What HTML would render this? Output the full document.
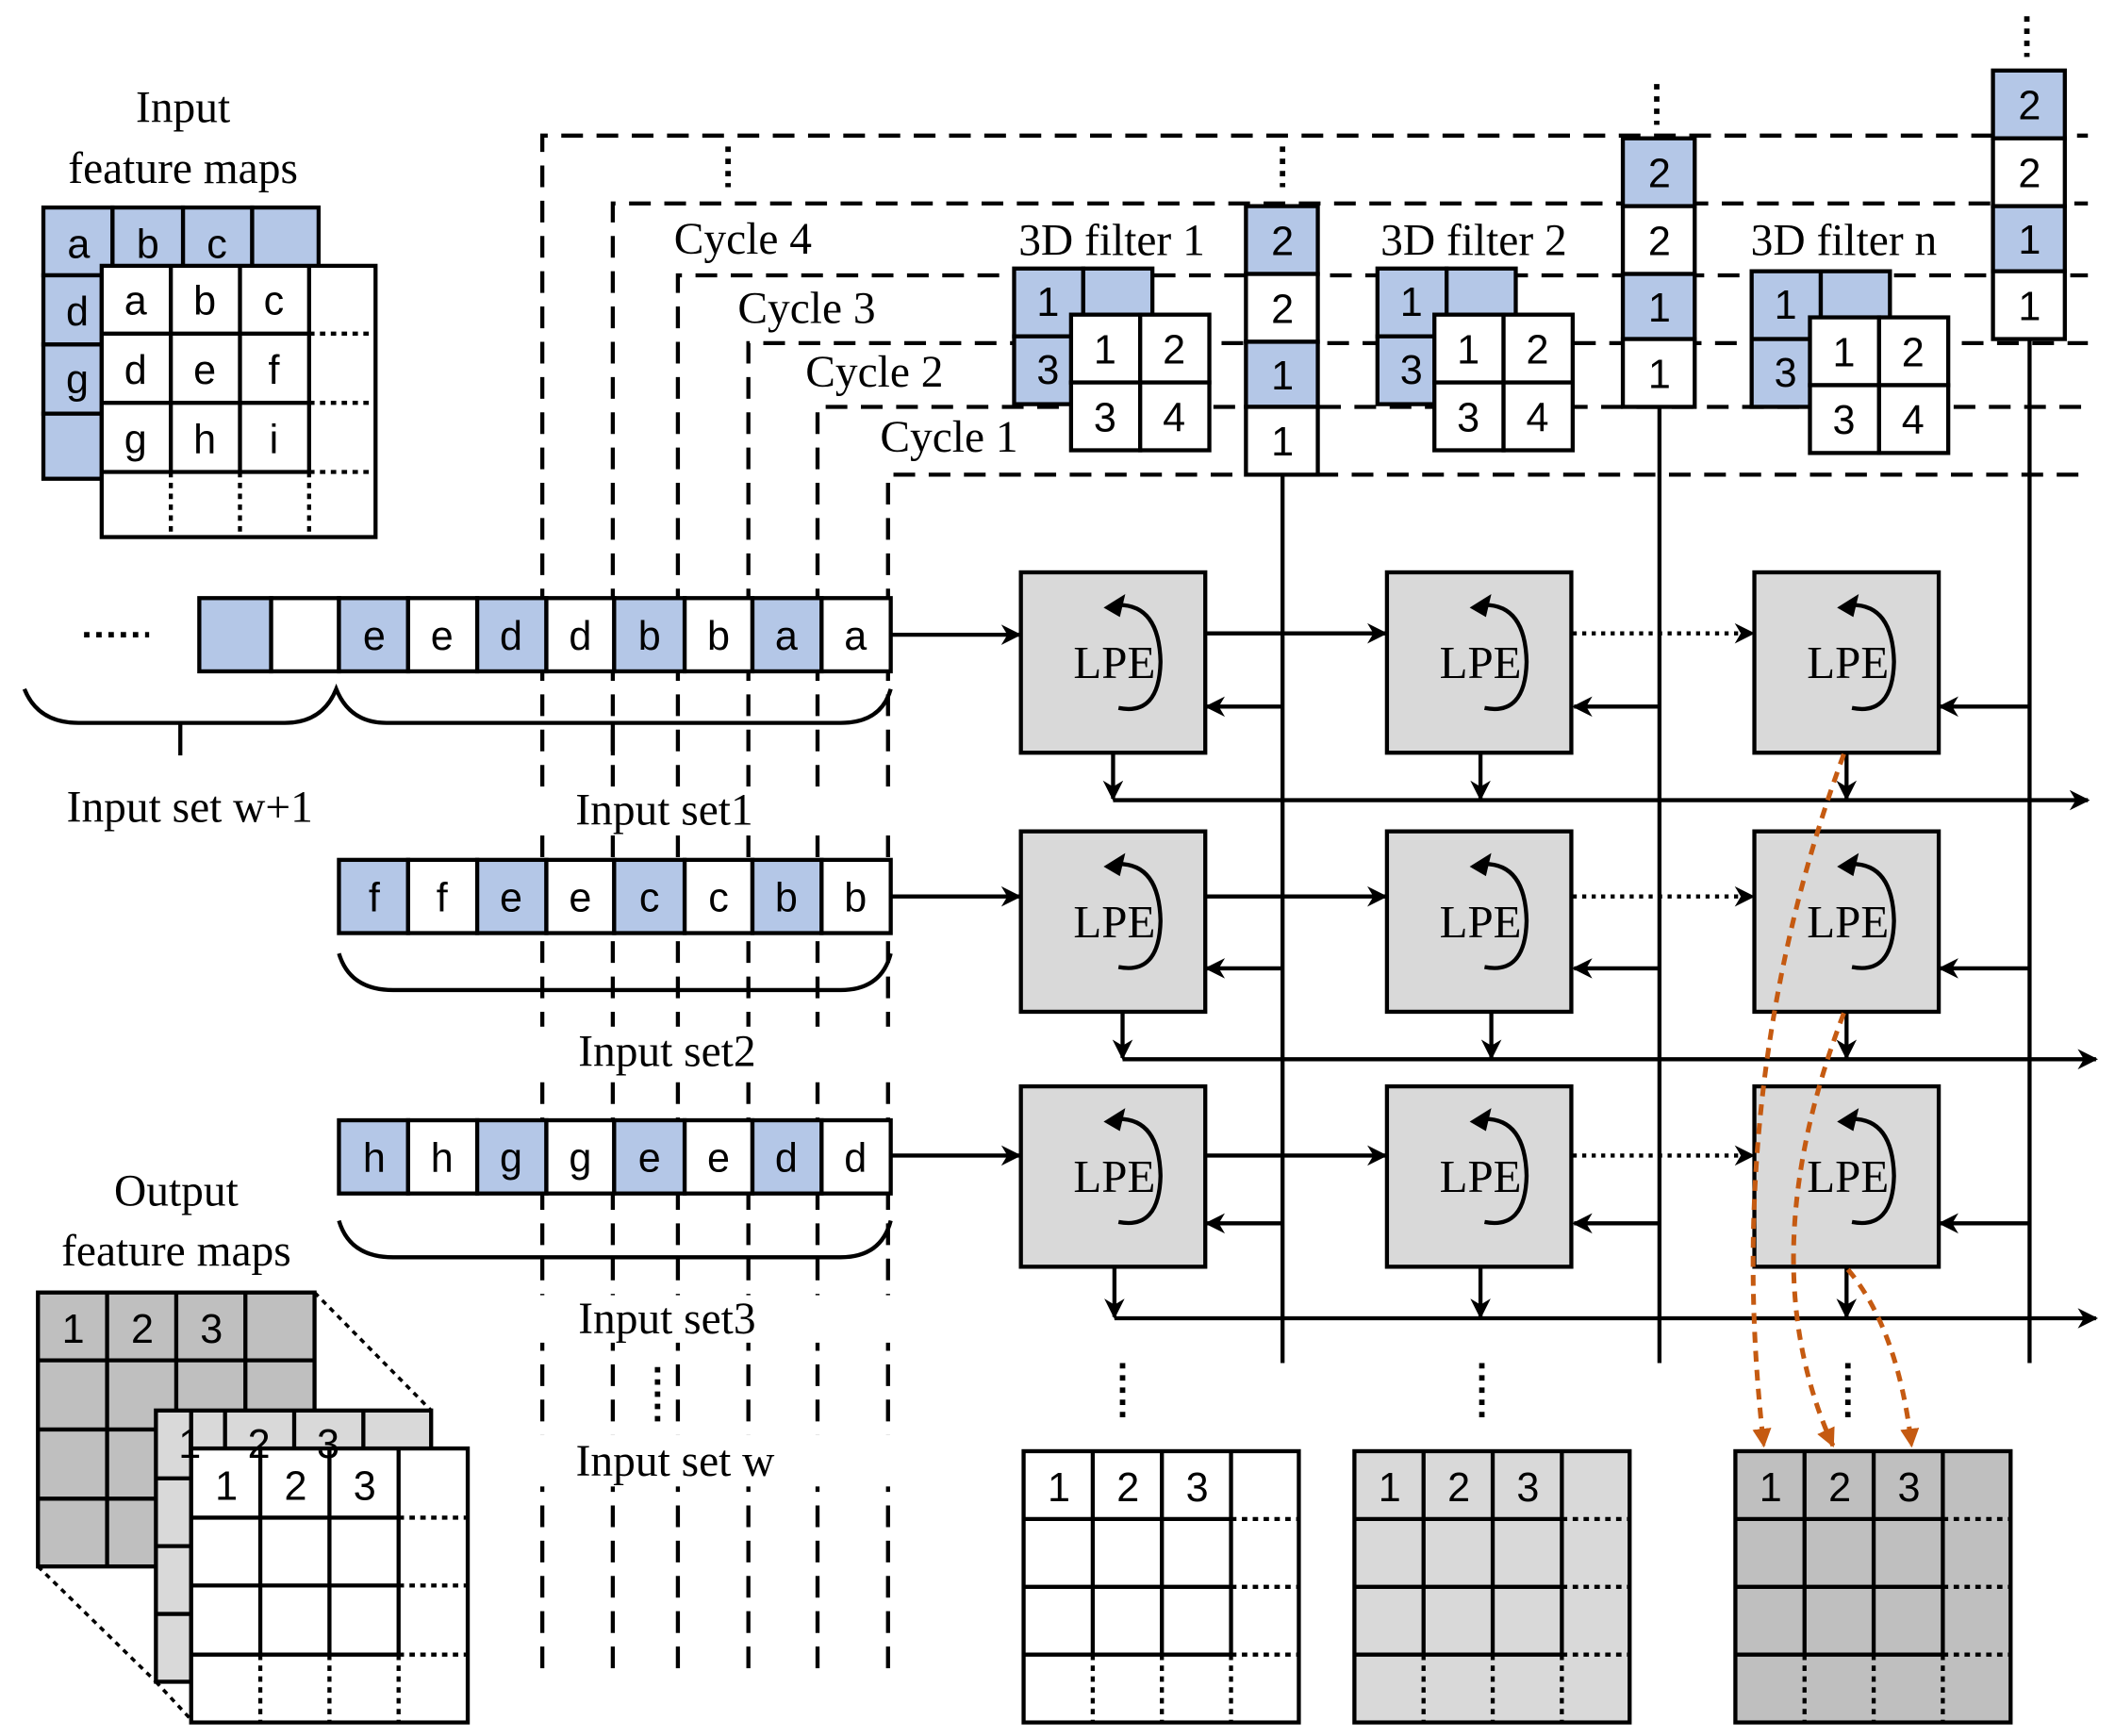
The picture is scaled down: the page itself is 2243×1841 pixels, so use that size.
<!DOCTYPE html>
<html><head><meta charset="utf-8"><style>
html,body{margin:0;padding:0;background:#fff}
svg{display:block}
.s{font-family:"Liberation Sans",sans-serif;font-size:30px;text-anchor:middle}
.r{font-family:"Liberation Serif",serif;font-size:33px;text-anchor:middle}
</style></head><body>
<svg width="2243" height="1841" viewBox="0 0 1560 1280" preserveAspectRatio="none" xmlns="http://www.w3.org/2000/svg">
<defs>
<marker id="ah" viewBox="0 0 10 10" refX="9" refY="5" markerWidth="5" markerHeight="5" orient="auto"><path d="M0,0 L10,5 L0,10 L3,5 z" fill="#000"/></marker>
<marker id="ao" viewBox="0 0 10 10" refX="9" refY="5" markerWidth="4" markerHeight="4" orient="auto"><path d="M0,0 L10,5 L0,10 z" fill="#c55a11"/></marker>
</defs>
<g fill="none" stroke="#000" stroke-width="3" stroke-dasharray="16,10">
<path d="M400,1230 V100 H1540"/>
<path d="M452,1230 V150 H1540"/>
<path d="M500,1230 V203 H1540"/>
<path d="M552,1230 V253 H1540"/>
<path d="M603,1230 V300 H1540"/>
<path d="M655,1230 V350 H1540"/>
</g>
<!-- white label backgrounds -->
<g fill="#fff">
<rect x="395" y="580" width="270" height="35"/><rect x="395" y="757" width="270" height="35"/><rect x="395" y="955" width="270" height="35"/><rect x="395" y="1058" width="270" height="38"/>
<rect x="485" y="158" width="125" height="36"/><rect x="533" y="210" width="125" height="36"/><rect x="583" y="258" width="125" height="36"/><rect x="638" y="305" width="125" height="36"/>
<rect x="740" y="158" width="160" height="36"/><rect x="1005" y="158" width="165" height="36"/><rect x="1278" y="158" width="165" height="36"/>
</g>
<g class="r">
<text x="548" y="187">Cycle 4</text><text x="595" y="238">Cycle 3</text><text x="645" y="285">Cycle 2</text><text x="700" y="333">Cycle 1</text>
<text x="820" y="188">3D filter 1</text><text x="1087" y="188">3D filter 2</text><text x="1360" y="188">3D filter n</text>
<text x="135" y="90">Input</text><text x="135" y="135">feature maps</text>
<text x="140" y="606">Input set w+1</text><text x="490" y="608">Input set1</text><text x="492" y="786">Input set2</text><text x="492" y="983">Input set3</text><text x="498" y="1088">Input set w</text>
<text x="130" y="889">Output</text><text x="130" y="933">feature maps</text>
</g>
<g fill="none" stroke="#000" stroke-width="4" stroke-dasharray="4,5">
<path d="M537,108 V138"/><path d="M946,108 V138"/><path d="M1222,62 V92"/><path d="M1495,12 V42"/><path d="M485,1008 V1050"/>
<path d="M828,1005 V1050"/><path d="M1093,1005 V1050"/><path d="M1363,1005 V1050"/>
<path d="M62,468 H110"/>
</g>
<!-- input feature maps -->
<g stroke="#000" stroke-width="3" fill="#b4c7e7">
<rect x="32" y="153" width="51" height="50"/><rect x="83" y="153" width="52" height="50"/><rect x="135" y="153" width="51" height="50"/><rect x="186" y="153" width="49" height="50"/>
<rect x="32" y="203" width="43" height="51"/><rect x="32" y="254" width="43" height="51"/><rect x="32" y="305" width="43" height="48"/>
<rect x="75" y="196" width="202" height="200" fill="#fff"/>
</g>
<g stroke="#000" stroke-width="3"><path d="M126,196V348M177,196V348M228,196V348M75,246H228M75,297H228M75,348H228"/></g>
<g stroke="#000" stroke-width="3" stroke-dasharray="4,4"><path d="M228,246H277M228,297H277M228,348H277M126,348V396M177,348V396M228,348V396"/></g>
<g class="s"><text x="58" y="190">a</text><text x="109" y="190">b</text><text x="160" y="190">c</text><text x="57" y="240">d</text><text x="57" y="290">g</text>
<text x="100" y="232">a</text><text x="151" y="232">b</text><text x="202" y="232">c</text><text x="100" y="283">d</text><text x="151" y="283">e</text><text x="202" y="283">f</text><text x="100" y="334">g</text><text x="151" y="334">h</text><text x="202" y="334">i</text></g>
<!-- input rows -->
<g stroke="#000" stroke-width="3">
<rect x="147" y="441" width="53" height="54" fill="#b4c7e7"/><rect x="200" y="441" width="50" height="54" fill="#fff"/>
<rect x="250" y="441" width="51" height="54" fill="#b4c7e7"/><rect x="301" y="441" width="51" height="54" fill="#fff"/>
<rect x="352" y="441" width="51" height="54" fill="#b4c7e7"/><rect x="403" y="441" width="50" height="54" fill="#fff"/>
<rect x="453" y="441" width="52" height="54" fill="#b4c7e7"/><rect x="505" y="441" width="50" height="54" fill="#fff"/>
<rect x="555" y="441" width="51" height="54" fill="#b4c7e7"/><rect x="606" y="441" width="51" height="54" fill="#fff"/>
<g transform="translate(0,193)"><rect x="250" y="441" width="51" height="54" fill="#b4c7e7"/><rect x="301" y="441" width="51" height="54" fill="#fff"/>
<rect x="352" y="441" width="51" height="54" fill="#b4c7e7"/><rect x="403" y="441" width="50" height="54" fill="#fff"/>
<rect x="453" y="441" width="52" height="54" fill="#b4c7e7"/><rect x="505" y="441" width="50" height="54" fill="#fff"/>
<rect x="555" y="441" width="51" height="54" fill="#b4c7e7"/><rect x="606" y="441" width="51" height="54" fill="#fff"/></g>
<g transform="translate(0,385)"><rect x="250" y="441" width="51" height="54" fill="#b4c7e7"/><rect x="301" y="441" width="51" height="54" fill="#fff"/>
<rect x="352" y="441" width="51" height="54" fill="#b4c7e7"/><rect x="403" y="441" width="50" height="54" fill="#fff"/>
<rect x="453" y="441" width="52" height="54" fill="#b4c7e7"/><rect x="505" y="441" width="50" height="54" fill="#fff"/>
<rect x="555" y="441" width="51" height="54" fill="#b4c7e7"/><rect x="606" y="441" width="51" height="54" fill="#fff"/></g>
</g>
<g class="s"><text x="276" y="479">e</text><text x="326" y="479">e</text><text x="377" y="479">d</text><text x="428" y="479">d</text><text x="479" y="479">b</text><text x="530" y="479">b</text><text x="580" y="479">a</text><text x="631" y="479">a</text>
<text x="276" y="672">f</text><text x="326" y="672">f</text><text x="377" y="672">e</text><text x="428" y="672">e</text><text x="479" y="672">c</text><text x="530" y="672">c</text><text x="580" y="672">b</text><text x="631" y="672">b</text>
<text x="276" y="864">h</text><text x="326" y="864">h</text><text x="377" y="864">g</text><text x="428" y="864">g</text><text x="479" y="864">e</text><text x="530" y="864">e</text><text x="580" y="864">d</text><text x="631" y="864">d</text></g>
<!-- braces -->
<g fill="none" stroke="#000" stroke-width="3">
<path d="M18,508 Q28,533 58,533 H210 Q238,533 248,508 Q258,533 285,533 H620 Q650,533 657,508 M133,533V557 M452,533V557"/>
<path d="M250,703 Q258,730 290,730 H620 Q650,730 657,703"/>
<path d="M250,900 Q258,927 290,927 H620 Q650,927 657,900"/>
</g>
<!-- 3D filters -->
<g stroke="#000" stroke-width="3">
<g fill="#b4c7e7"><rect x="748" y="198" width="51" height="50"/><rect x="799" y="198" width="51" height="50"/><rect x="748" y="248" width="51" height="50"/><rect x="799" y="248" width="51" height="50"/>
<rect x="1016" y="198" width="51" height="50"/><rect x="1067" y="198" width="51" height="50"/><rect x="1016" y="248" width="51" height="50"/><rect x="1067" y="248" width="51" height="50"/>
<rect x="1292" y="200" width="51" height="50"/><rect x="1343" y="200" width="51" height="50"/><rect x="1292" y="250" width="51" height="50"/><rect x="1343" y="250" width="51" height="50"/></g>
<g fill="#fff"><rect x="790" y="232" width="51" height="50"/><rect x="841" y="232" width="51" height="50"/><rect x="790" y="282" width="51" height="50"/><rect x="841" y="282" width="51" height="50"/>
<rect x="1058" y="232" width="51" height="50"/><rect x="1109" y="232" width="51" height="50"/><rect x="1058" y="282" width="51" height="50"/><rect x="1109" y="282" width="51" height="50"/>
<rect x="1335" y="234" width="51" height="50"/><rect x="1386" y="234" width="51" height="50"/><rect x="1335" y="284" width="51" height="50"/><rect x="1386" y="284" width="51" height="50"/></g>
</g>
<g class="s"><text x="773" y="233">1</text><text x="773" y="283">3</text><text x="815" y="268">1</text><text x="866" y="268">2</text><text x="815" y="318">3</text><text x="866" y="318">4</text>
<text x="1041" y="233">1</text><text x="1041" y="283">3</text><text x="1083" y="268">1</text><text x="1134" y="268">2</text><text x="1083" y="318">3</text><text x="1134" y="318">4</text>
<text x="1317" y="235">1</text><text x="1317" y="285">3</text><text x="1360" y="270">1</text><text x="1411" y="270">2</text><text x="1360" y="320">3</text><text x="1411" y="320">4</text></g>
<!-- vertical lines and stacks -->
<g stroke="#000" stroke-width="3"><path d="M946,350V1005M1224,300V1005M1497,250V1005"/>
<rect x="919" y="152" width="53" height="50" fill="#b4c7e7"/><rect x="919" y="202" width="53" height="50" fill="#fff"/><rect x="919" y="252" width="53" height="48" fill="#b4c7e7"/><rect x="919" y="300" width="53" height="50" fill="#fff"/>
<rect x="1197" y="102" width="53" height="50" fill="#b4c7e7"/><rect x="1197" y="152" width="53" height="50" fill="#fff"/><rect x="1197" y="202" width="53" height="48" fill="#b4c7e7"/><rect x="1197" y="250" width="53" height="50" fill="#fff"/>
<rect x="1470" y="52" width="53" height="50" fill="#b4c7e7"/><rect x="1470" y="102" width="53" height="50" fill="#fff"/><rect x="1470" y="152" width="53" height="48" fill="#b4c7e7"/><rect x="1470" y="200" width="53" height="50" fill="#fff"/>
</g>
<g class="s"><text x="946" y="188">2</text><text x="946" y="238">2</text><text x="946" y="287">1</text><text x="946" y="336">1</text>
<text x="1224" y="138">2</text><text x="1224" y="188">2</text><text x="1224" y="237">1</text><text x="1224" y="286">1</text>
<text x="1497" y="88">2</text><text x="1497" y="138">2</text><text x="1497" y="187">1</text><text x="1497" y="236">1</text></g>
<!-- connectors -->
<g fill="none" stroke="#000" stroke-width="3" marker-end="url(#ah)">
<path d="M657,468H752"/><path d="M657,661H752"/><path d="M657,852H752"/>
<path d="M889,467H1022"/><path d="M889,661H1022"/><path d="M889,852H1022"/>
<path d="M946,521H890"/><path d="M1224,521H1161"/><path d="M1497,521H1431"/>
<path d="M946,714H890"/><path d="M1224,714H1161"/><path d="M1497,714H1431"/>
<path d="M946,902H890"/><path d="M1224,902H1161"/><path d="M1497,902H1431"/>
<path d="M821,555V589"/><path d="M1092,555V589"/><path d="M1362,555V589"/>
<path d="M828,746V780"/><path d="M1100,746V780"/><path d="M1362,746V780"/>
<path d="M822,935V971"/><path d="M1092,935V971"/><path d="M1362,935V971"/>
<path d="M821,590H1540"/><path d="M828,781H1546"/><path d="M822,972H1546"/>
</g>
<g fill="none" stroke="#000" stroke-width="3" stroke-dasharray="3,4" marker-end="url(#ah)">
<path d="M1160,467H1293"/><path d="M1160,661H1293"/><path d="M1160,852H1293"/>
</g>
<!-- LPE boxes -->
<g id="lpe">
<rect x="753" y="422" width="136" height="133" fill="#d9d9d9" stroke="#000" stroke-width="3"/>
<path d="M825,446 Q855,446 856,488 Q855,528 825,522" fill="none" stroke="#000" stroke-width="3"/>
<path d="M814,448 L830,438 L826,455 z" fill="#000"/>
<text class="r" x="822" y="500" style="font-size:34px">LPE</text>
</g>
<g transform="translate(270,0)"><rect x="753" y="422" width="136" height="133" fill="#d9d9d9" stroke="#000" stroke-width="3"/><path d="M825,446 Q855,446 856,488 Q855,528 825,522" fill="none" stroke="#000" stroke-width="3"/><path d="M814,448 L830,438 L826,455 z"/><text class="r" x="822" y="500" style="font-size:34px">LPE</text></g>
<g transform="translate(541,0)"><rect x="753" y="422" width="136" height="133" fill="#d9d9d9" stroke="#000" stroke-width="3"/><path d="M825,446 Q855,446 856,488 Q855,528 825,522" fill="none" stroke="#000" stroke-width="3"/><path d="M814,448 L830,438 L826,455 z"/><text class="r" x="822" y="500" style="font-size:34px">LPE</text></g>
<g transform="translate(0,191)"><rect x="753" y="422" width="136" height="133" fill="#d9d9d9" stroke="#000" stroke-width="3"/><path d="M825,446 Q855,446 856,488 Q855,528 825,522" fill="none" stroke="#000" stroke-width="3"/><path d="M814,448 L830,438 L826,455 z"/><text class="r" x="822" y="500" style="font-size:34px">LPE</text></g>
<g transform="translate(270,191)"><rect x="753" y="422" width="136" height="133" fill="#d9d9d9" stroke="#000" stroke-width="3"/><path d="M825,446 Q855,446 856,488 Q855,528 825,522" fill="none" stroke="#000" stroke-width="3"/><path d="M814,448 L830,438 L826,455 z"/><text class="r" x="822" y="500" style="font-size:34px">LPE</text></g>
<g transform="translate(541,191)"><rect x="753" y="422" width="136" height="133" fill="#d9d9d9" stroke="#000" stroke-width="3"/><path d="M825,446 Q855,446 856,488 Q855,528 825,522" fill="none" stroke="#000" stroke-width="3"/><path d="M814,448 L830,438 L826,455 z"/><text class="r" x="822" y="500" style="font-size:34px">LPE</text></g>
<g transform="translate(0,379)"><rect x="753" y="422" width="136" height="133" fill="#d9d9d9" stroke="#000" stroke-width="3"/><path d="M825,446 Q855,446 856,488 Q855,528 825,522" fill="none" stroke="#000" stroke-width="3"/><path d="M814,448 L830,438 L826,455 z"/><text class="r" x="822" y="500" style="font-size:34px">LPE</text></g>
<g transform="translate(270,379)"><rect x="753" y="422" width="136" height="133" fill="#d9d9d9" stroke="#000" stroke-width="3"/><path d="M825,446 Q855,446 856,488 Q855,528 825,522" fill="none" stroke="#000" stroke-width="3"/><path d="M814,448 L830,438 L826,455 z"/><text class="r" x="822" y="500" style="font-size:34px">LPE</text></g>
<g transform="translate(541,379)"><rect x="753" y="422" width="136" height="133" fill="#d9d9d9" stroke="#000" stroke-width="3"/><path d="M825,446 Q855,446 856,488 Q855,528 825,522" fill="none" stroke="#000" stroke-width="3"/><path d="M814,448 L830,438 L826,455 z"/><text class="r" x="822" y="500" style="font-size:34px">LPE</text></g>
<!-- output feature maps (left) -->
<g fill="none" stroke="#000" stroke-width="2.5" stroke-dasharray="4,4"><path d="M28,953L141,1068M232,953L318,1040M28,1155L115,1240M115,1240L141,1268"/></g>
<g stroke="#000" stroke-width="3">
<rect x="28" y="953" width="204" height="202" fill="#bfbfbf"/><path d="M79,953V1155M130,953V1155M181,953V1155M28,1003H232M28,1054H232M28,1105H232"/>
<rect x="115" y="1040" width="203" height="200" fill="#d9d9d9"/><path d="M141,1040V1240M166,1040V1068M217,1040V1068M268,1040V1068M115,1090H141M115,1140H141M115,1190H141"/>
<rect x="141" y="1068" width="204" height="202" fill="#fff"/><path d="M192,1068V1220M243,1068V1220M294,1068V1220M141,1119H294M141,1169H294M141,1220H294"/>
</g>
<g stroke="#000" stroke-width="3" stroke-dasharray="4,4"><path d="M294,1119H345M294,1169H345M294,1220H345M192,1220V1270M243,1220V1270M294,1220V1270"/></g>
<g class="s"><text x="54" y="990">1</text><text x="105" y="990">2</text><text x="156" y="990">3</text><text x="140" y="1075">1</text><text x="191" y="1075">2</text><text x="242" y="1075">3</text>
<text x="167" y="1106">1</text><text x="218" y="1106">2</text><text x="269" y="1106">3</text></g>
<!-- output maps bottom -->
<g id="om">
<rect x="755" y="1070" width="203" height="200" fill="#fff" stroke="#000" stroke-width="3"/>
<path d="M806,1070V1220M857,1070V1220M908,1070V1220M755,1120H908M755,1170H908M755,1220H908" stroke="#000" stroke-width="3"/>
<path d="M908,1120H958M908,1170H958M908,1220H958M806,1220V1270M857,1220V1270M908,1220V1270" stroke="#000" stroke-width="3" stroke-dasharray="4,4"/>
</g>
<g transform="translate(244,0)"><rect x="755" y="1070" width="203" height="200" fill="#d9d9d9" stroke="#000" stroke-width="3"/>
<path d="M806,1070V1220M857,1070V1220M908,1070V1220M755,1120H908M755,1170H908M755,1220H908" stroke="#000" stroke-width="3"/>
<path d="M908,1120H958M908,1170H958M908,1220H958M806,1220V1270M857,1220V1270M908,1220V1270" stroke="#000" stroke-width="3" stroke-dasharray="4,4"/></g>
<g transform="translate(525,0)"><rect x="755" y="1070" width="203" height="200" fill="#bfbfbf" stroke="#000" stroke-width="3"/>
<path d="M806,1070V1220M857,1070V1220M908,1070V1220M755,1120H908M755,1170H908M755,1220H908" stroke="#000" stroke-width="3"/>
<path d="M908,1120H958M908,1170H958M908,1220H958M806,1220V1270M857,1220V1270M908,1220V1270" stroke="#000" stroke-width="3" stroke-dasharray="4,4"/></g>
<g class="s"><text x="781" y="1107">1</text><text x="832" y="1107">2</text><text x="883" y="1107">3</text>
<text x="1025" y="1107">1</text><text x="1076" y="1107">2</text><text x="1127" y="1107">3</text>
<text x="1306" y="1107">1</text><text x="1357" y="1107">2</text><text x="1408" y="1107">3</text></g>
<!-- orange curves -->
<g fill="none" stroke="#c55a11" stroke-width="3.5" stroke-dasharray="8,6" marker-end="url(#ao)">
<path d="M1360,556 Q1270,800 1301,1066"/>
<path d="M1360,747 Q1290,930 1352,1066"/>
<path d="M1363,936 Q1400,980 1410,1066"/>
</g>
</svg>
</body></html>
